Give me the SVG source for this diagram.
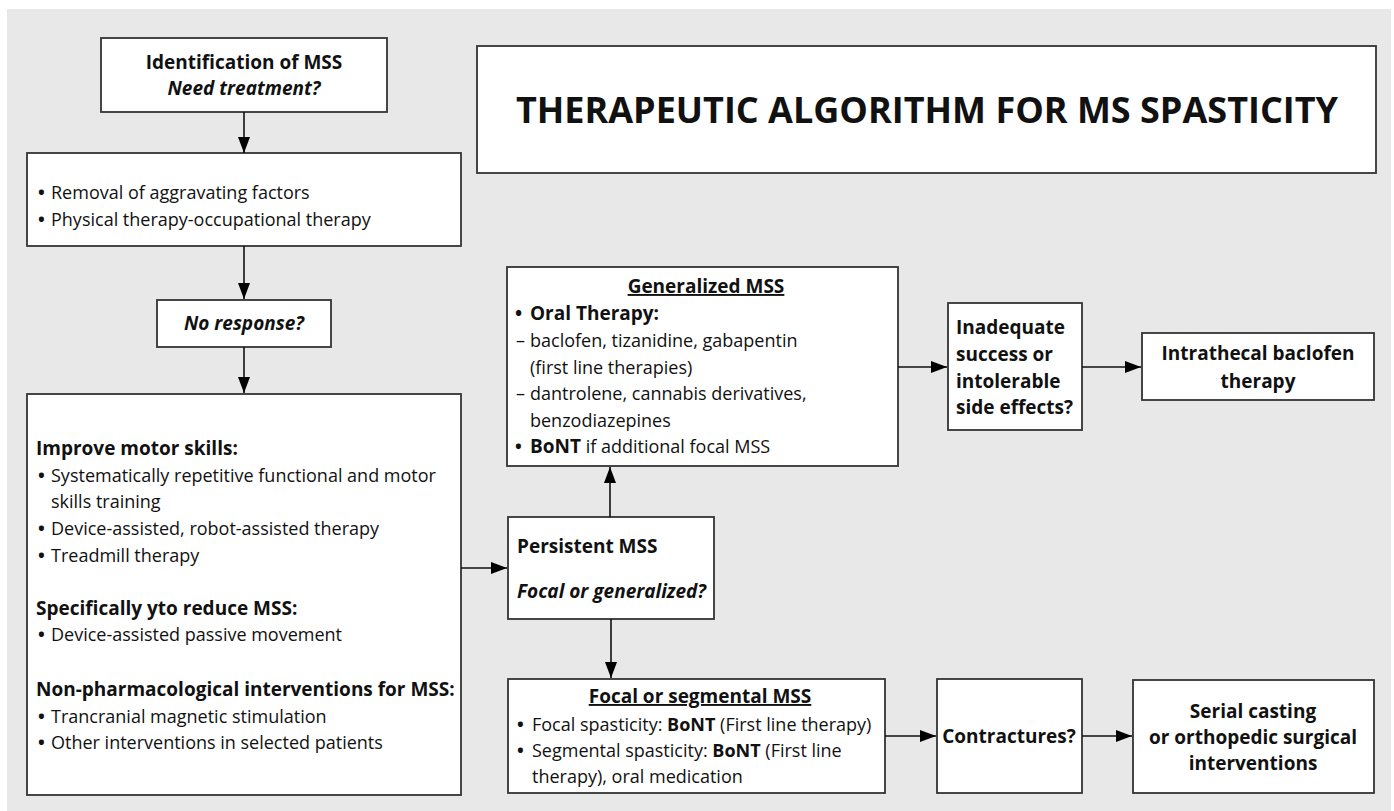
<svg xmlns="http://www.w3.org/2000/svg" width="1394" height="811" viewBox="0 0 1394 811">
<style>
.box{fill:#fff;stroke:#333;stroke-width:1.8}
.t{font-family:"Open Sans","Noto Sans",sans-serif;font-size:18px;fill:#111}
.b{font-weight:bold}
.i{font-style:italic}
.c{text-anchor:middle}
.u{text-decoration:underline}
.bu{font-weight:bold}
.conn{stroke:#111;stroke-width:1.6;fill:none;marker-end:url(#ah)}
</style>
<defs>
<marker id="ah" markerUnits="userSpaceOnUse" markerWidth="16" markerHeight="12" refX="16" refY="6" orient="auto">
<path d="M0,0 L16,6 L0,12 z" fill="#000"/>
</marker>
</defs>
<rect x="0" y="0" width="1394" height="811" fill="#fff"/>
<rect x="7" y="9" width="1384" height="802" fill="#e8e8e8"/>

<g id="title">
<rect class="box" x="477" y="46" width="899" height="127"/>
<text class="t b c" x="927" y="123" style="font-size:36px">THERAPEUTIC ALGORITHM FOR MS SPASTICITY</text>
</g>

<g id="identification">
<rect class="box" x="101" y="38" width="286" height="74"/>
<text class="t b c" x="244" y="69" style="font-size:19px">Identification of MSS</text>
<text class="t b i c" x="244" y="95" style="font-size:19px">Need treatment?</text>
</g>

<g id="removal">
<rect class="box" x="27" y="153" width="434" height="93"/>
<text class="t" x="38" y="199"><tspan class="bu">•</tspan><tspan x="51">Removal of aggravating factors</tspan></text>
<text class="t" x="38" y="226"><tspan class="bu">•</tspan><tspan x="51">Physical therapy-occupational therapy</tspan></text>
</g>

<g id="noresponse">
<rect class="box" x="157" y="300" width="174" height="47"/>
<text class="t b i c" x="244" y="330" style="font-size:19px">No response?</text>
</g>

<g id="motor">
<rect class="box" x="27" y="394" width="434" height="401"/>
<text class="t b" x="36" y="455" style="font-size:19px">Improve motor skills:</text>
<text class="t" x="38" y="482"><tspan class="bu">•</tspan><tspan x="51">Systematically repetitive functional and motor</tspan></text>
<text class="t" x="51" y="508">skills training</text>
<text class="t" x="38" y="535"><tspan class="bu">•</tspan><tspan x="51">Device-assisted, robot-assisted therapy</tspan></text>
<text class="t" x="38" y="562"><tspan class="bu">•</tspan><tspan x="51">Treadmill therapy</tspan></text>
<text class="t b" x="36" y="615" style="font-size:19px">Specifically yto reduce MSS:</text>
<text class="t" x="38" y="641"><tspan class="bu">•</tspan><tspan x="51">Device-assisted passive movement</tspan></text>
<text class="t b" x="36" y="696" style="font-size:19px">Non-pharmacological interventions for MSS:</text>
<text class="t" x="38" y="723"><tspan class="bu">•</tspan><tspan x="51">Trancranial magnetic stimulation</tspan></text>
<text class="t" x="38" y="749"><tspan class="bu">•</tspan><tspan x="51">Other interventions in selected patients</tspan></text>
</g>

<g id="persistent">
<rect class="box" x="508" y="517" width="206" height="102"/>
<text class="t b" x="517" y="553" style="font-size:19px">Persistent MSS</text>
<text class="t b i" x="517" y="598" style="font-size:19px">Focal or generalized?</text>
</g>

<g id="generalized">
<rect class="box" x="507" y="267" width="391" height="199"/>
<text class="t b c u" x="706" y="293" style="font-size:19px">Generalized MSS</text>
<text class="t b" x="515" y="320" style="font-size:19px"><tspan class="bu">•</tspan><tspan x="530">Oral Therapy:</tspan></text>
<text class="t" x="516" y="347">–<tspan x="530">baclofen, tizanidine, gabapentin</tspan></text>
<text class="t" x="530" y="374">(first line therapies)</text>
<text class="t" x="516" y="400">–<tspan x="530">dantrolene, cannabis derivatives,</tspan></text>
<text class="t" x="530" y="427">benzodiazepines</text>
<text class="t" x="515" y="453"><tspan class="b bu">•</tspan><tspan x="530" class="b" style="font-size:19px">BoNT</tspan> if additional focal MSS</text>
</g>

<g id="inadequate">
<rect class="box" x="948" y="303" width="134" height="127"/>
<text class="t b" x="956" y="334" style="font-size:19px">Inadequate</text>
<text class="t b" x="956" y="361" style="font-size:19px">success or</text>
<text class="t b" x="956" y="388" style="font-size:19px">intolerable</text>
<text class="t b" x="956" y="414" style="font-size:19px">side effects?</text>
</g>

<g id="intrathecal">
<rect class="box" x="1142" y="333" width="232" height="67"/>
<text class="t b c" x="1258" y="360" style="font-size:19px">Intrathecal baclofen</text>
<text class="t b c" x="1258" y="388" style="font-size:19px">therapy</text>
</g>

<g id="focal">
<rect class="box" x="508" y="679" width="377" height="114"/>
<text class="t b c u" x="700" y="703" style="font-size:19px">Focal or segmental MSS</text>
<text class="t" x="517" y="731"><tspan class="bu">•</tspan><tspan x="532">Focal spasticity: </tspan><tspan class="b">BoNT</tspan> (First line therapy)</text>
<text class="t" x="517" y="757"><tspan class="bu">•</tspan><tspan x="532">Segmental spasticity: </tspan><tspan class="b">BoNT</tspan> (First line</text>
<text class="t" x="532" y="783">therapy), oral medication</text>
</g>

<g id="contractures">
<rect class="box" x="937" y="679" width="145" height="114"/>
<text class="t b c" x="1009" y="743" style="font-size:19px">Contractures?</text>
</g>

<g id="serial">
<rect class="box" x="1133" y="680" width="241" height="113"/>
<text class="t b c" x="1253" y="718" style="font-size:19px">Serial casting</text>
<text class="t b c" x="1253" y="744" style="font-size:19px">or orthopedic surgical</text>
<text class="t b c" x="1253" y="770" style="font-size:19px">interventions</text>
</g>

<g id="connectors">
<line class="conn" x1="244" y1="112" x2="244" y2="153"/>
<line class="conn" x1="244" y1="246" x2="244" y2="299"/>
<line class="conn" x1="244" y1="347" x2="244" y2="393"/>
<line class="conn" x1="461" y1="568" x2="507" y2="568"/>
<line class="conn" x1="610" y1="517" x2="610" y2="467"/>
<line class="conn" x1="611" y1="619" x2="611" y2="678"/>
<line class="conn" x1="898" y1="367" x2="947" y2="367"/>
<line class="conn" x1="1082" y1="367" x2="1141" y2="367"/>
<line class="conn" x1="885" y1="736" x2="936" y2="736"/>
<line class="conn" x1="1082" y1="736" x2="1132" y2="736"/>
</g>
</svg>
